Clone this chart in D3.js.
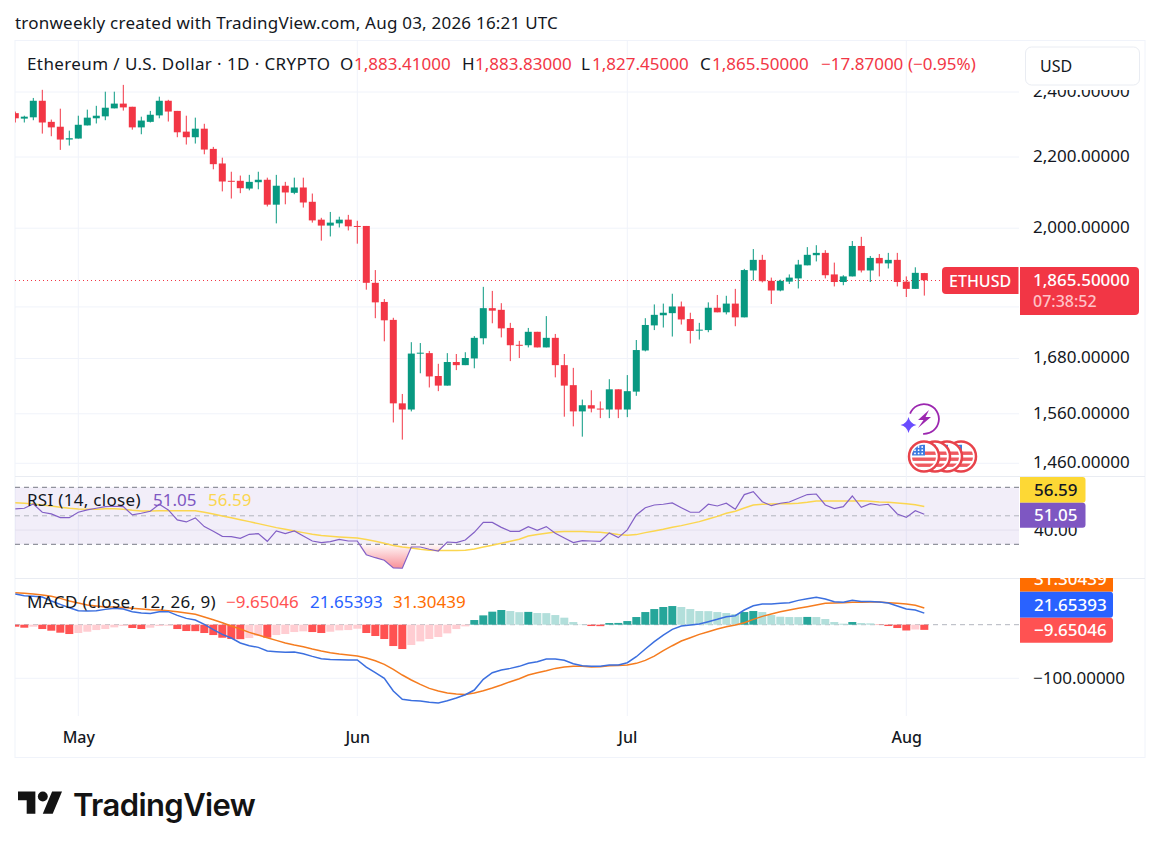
<!DOCTYPE html>
<html>
<head>
<meta charset="utf-8">
<script src="https://cdn.jsdelivr.net/npm/d3@7"></script>
<style>
  html, body { margin: 0; padding: 0; background: #fff; }
  svg { display: block; }
  text { font-family: "Noto Sans", sans-serif; fill: #131722; }
</style>
</head>
<body>
<div id="chart"></div>
<script>
// ETHUSD daily candles, one entry per day from Apr 24
const firstDay = "2026-04-24";
const opens = [2333,2316,2320,2372,2306,2291,2252,2255,2295,2317,2323,2348,2363,2353,2289,2306,2326,2372,2340,2276,2259,2285,2224,2181,2131,2131,2109,2127,2134,2064,2117,2097,2112,2072,2023,2007,2013,2023,2006,
  2006,1859,1812,1769,1582,1569,1692,1692,1641,1620,1672,1665,1680,1726,1797,1793,1750,1711,1710,1741,1705,1727,1665,1621,1565,1578,1571,1569,1612,1569,1607,1698,
  1756,1780,1785,1801,1771,1745,1745,1798,1787,1808,1775,1890,1917,1864,1840,1862,1870,1903,1929,1935,1880,1861,1875,1953,1890,1922,1908,1917,1862,1844,1883.41];
const highs = [2338,2325,2381,2407,2313,2347,2279,2325,2344,2356,2401,2401,2423,2353,2322,2340,2385,2375,2340,2325,2319,2300,2230,2198,2157,2146,2148,2157,2140,2148,2128,2140,2140,2095,2028,2044,2031,2036,2020,
  2006,1891,1819,1774,1602,1717,1715,1697,1668,1692,1690,1694,1731,1849,1839,1809,1762,1720,1750,1741,1778,1736,1690,1659,1590,1610,1586,1634,1612,1643,1722,1773,
  1806,1808,1832,1813,1786,1762,1811,1829,1827,1844,1894,1945,1930,1872,1867,1880,1917,1950,1955,1942,1910,1878,1966,1977,1927,1932,1935,1935,1875,1898,1883.83];
const lows = [2304,2304,2311,2270,2262,2221,2234,2255,2295,2301,2311,2348,2341,2282,2268,2304,2317,2307,2259,2237,2240,2208,2164,2101,2081,2096,2104,2107,2059,2013,2065,2093,2056,2015,1967,1978,2002,1994,1959,
  1842,1773,1719,1542,1507,1565,1647,1616,1608,1620,1654,1665,1658,1712,1761,1728,1674,1681,1705,1705,1705,1638,1554,1534,1513,1563,1551,1551,1551,1553,1598,1696,
  1745,1751,1730,1758,1714,1723,1740,1787,1782,1754,1775,1865,1860,1807,1838,1856,1845,1903,1913,1870,1850,1853,1875,1885,1861,1875,1895,1850,1824,1844,1827.45];
const closes = [2317,2322,2372,2304,2289,2252,2256,2297,2319,2325,2350,2363,2351,2289,2310,2328,2372,2338,2274,2259,2285,2222,2179,2129,2129,2110,2128,2134,2064,2117,2098,2112,2070,2021,2007,2015,2023,2005,2005,
  1859,1811,1768,1582,1569,1691,1693,1640,1620,1672,1665,1681,1727,1797,1791,1749,1710,1710,1741,1705,1727,1665,1620,1565,1578,1571,1570,1612,1569,1608,1699,1757,
  1781,1786,1801,1770,1743,1746,1798,1787,1808,1775,1891,1917,1863,1840,1864,1872,1905,1930,1935,1878,1861,1875,1953,1890,1922,1908,1917,1861,1844,1884,1865.5];

// RSI pane
const rsi = [54.8,55.3,58.3,52.5,51.3,48.7,48.7,52.5,54.1,55.3,56.4,56.7,56.4,50.6,51.8,53.2,58.1,54.1,47.1,45.7,48.5,42.4,39.1,35.6,35.4,34.2,37.0,37.5,32.1,39.4,37.5,39.4,35.8,32.3,31.2,31.9,33.5,32.3,32.3,
  22.7,20.6,18.8,13.4,13.2,28.1,28.1,26.5,25.3,31.6,31.2,33.0,38.4,45.4,45.4,41.9,39.1,39.1,42.4,39.8,42.4,37.7,34.4,31.2,32.6,32.3,32.1,38.0,34.7,40.1,50.6,55.7,
  57.6,58.1,59.0,55.7,52.5,52.5,58.1,56.9,58.8,54.6,64.9,67.0,59.9,57.1,58.8,59.7,62.3,64.9,65.3,57.6,55.0,56.4,63.9,56.0,58.5,57.4,58.1,51.3,48.9,53.6,51.05];
const rsiMa = [59.2,58.8,58.3,57.6,56.9,56.0,55.3,54.8,54.6,54.6,55.0,55.0,54.6,53.9,53.4,53.4,53.6,53.6,53.6,53.6,53.6,52.5,51.3,49.9,48.7,47.3,45.9,44.5,43.1,41.7,40.5,39.4,38.2,37.0,36.1,35.6,35.1,34.7,34.4,
  33.3,32.1,30.7,29.1,28.1,27.4,26.5,25.8,25.6,25.6,25.6,25.8,26.7,28.1,29.3,30.7,32.1,33.5,35.8,36.8,37.7,38.7,38.9,38.9,38.9,38.7,38.4,37.7,36.8,36.3,36.8,38.2,
  39.4,40.5,41.9,43.1,44.5,45.9,47.8,49.6,51.8,53.2,55.5,57.6,58.1,58.3,58.5,58.5,58.8,59.5,60.4,60.4,60.4,60.4,60.4,60.6,60.2,59.7,59.5,59.0,58.5,57.8,56.59];

// MACD pane
const macdLine = [57.2,54.1,52.9,51.6,44.2,37.9,31.7,26.1,25.5,26.1,28.6,30.5,29.2,24.3,21.8,21.1,24.3,24.3,17.4,11.8,8.7,0.6,-9.3,-18.0,-24.9,-34.2,-39.2,-42.3,-49.1,-50.4,-51.6,-51.0,-54.1,-59.1,-63.4,-64.7,-65.3,-65.9,-65.9,
  -79.0,-89.6,-100.1,-123.8,-139.3,-141.2,-142.4,-144.9,-146.1,-141.8,-136.8,-130.6,-121.9,-102.0,-89.6,-84.6,-81.5,-77.7,-72.1,-69.0,-64.1,-64.1,-66.5,-72.8,-76.5,-77.7,-77.7,-75.2,-75.2,-70.9,-59.7,-45.4,
  -31.7,-19.3,-8.7,-2.5,-0.6,1.2,5.6,10.0,14.9,16.8,27.4,35.4,38.6,38.6,39.8,41.0,45.4,48.5,51.0,47.9,42.9,41.7,45.4,43.5,43.5,42.3,40.4,34.8,29.2,27.4,21.65];
const signalLine = [59.7,58.5,57.2,55.3,52.9,49.1,44.2,40.4,36.7,34.8,33.0,33.0,32.3,30.5,29.2,28.0,27.4,26.1,24.3,21.8,19.3,14.3,9.3,3.7,-2.5,-8.1,-14.3,-19.3,-24.3,-29.2,-34.2,-37.9,-41.0,-45.4,-49.1,-52.2,-54.7,-56.6,-58.5,
  -62.2,-67.2,-74.0,-83.3,-93.9,-103.2,-111.3,-118.8,-123.8,-127.5,-129.4,-130.0,-127.5,-123.1,-118.2,-112.6,-106.3,-100.7,-93.9,-89.6,-85.8,-81.5,-79.0,-77.7,-77.7,-79.0,-78.4,-76.5,-75.9,-75.2,-72.1,-66.5,
  -58.5,-48.5,-39.2,-30.5,-24.3,-18.0,-13.1,-8.1,-3.7,-0.6,3.7,10.0,15.5,19.9,24.3,27.4,30.5,33.6,36.7,39.8,40.4,41.0,41.7,41.7,42.3,42.3,41.0,39.8,38.6,36.1,31.30];
const histogram = [-3.7,-5.6,-3.7,-8.1,-11.2,-14.9,-17.4,-15.5,-13.1,-10.0,-8.1,-5.0,-2.5,-6.2,-8.1,-5.6,-2.5,-1.9,-8.1,-11.8,-12.0,-15.5,-19.3,-24.3,-26.7,-27.0,-24.9,-21.1,-24.3,-19.3,-17.4,-13.7,-12.4,-13.7,-15.5,-13.1,-10.6,-10.0,-7.5,
  -15.5,-21.1,-26.7,-39.8,-45.4,-37.9,-31.1,-26.7,-23.0,-16.2,-8.1,-3.1,8.7,17.4,24.3,27.4,25.5,23.4,23.9,21.8,21.6,18.0,13.1,5.0,0.6,-2.5,-2.7,3.1,3.3,6.8,14.3,23.6,
  29.2,33.0,34.8,33.0,29.2,25.5,25.3,23.6,21.8,19.9,23.6,25.5,23.6,18.0,14.9,14.3,14.2,14.5,14.3,10.6,5.0,1.9,5.0,3.1,2.5,-0.6,-2.5,-6.2,-10.8,-9.0,-9.65];

// axis labels (1,800 has a grid line but its label is hidden by the price tag)
const priceGrid = [2400, 2200, 2000, 1800, 1680, 1560, 1460];
const priceTicks = [2400, 2200, 2000, 1680, 1560, 1460];
const rsiTicks = [40];
const macdTicks = [-100];
const monthTicks = ["2026-05-01", "2026-06-01", "2026-07-01", "2026-08-01"];
const lastPrice = 1865.5;

const parseDay = d3.utcParse("%Y-%m-%d");
const days = closes.map((_, i) => d3.utcDay.offset(parseDay(firstDay), i));

const width = 1160, height = 848;
const plotLeft = 15, plotRight = 1019, frameRight = 1145;
const RED = "#F23645", GREEN = "#089981", GRID = "#F0F3FA", RSI_MA = "#FBD650";

const x = d3.scaleUtc().domain([days[0], days[days.length - 1]]).range([15.3, 924.3]);
const yPrice = d3.scaleLog().domain([1460, 2400]).range([463.3, 92]);
const yRsi = d3.scaleLinear().domain([30, 70]).range([544.3, 487.3]);
const yMacd = d3.scaleLinear().domain([-100, 0]).range([678.3, 624.7]);

const svg = d3.select("#chart").append("svg").attr("width", width).attr("height", height);
const defs = svg.append("defs");

function addClip(id, x0, y0, w, h) {
    defs.append("clipPath").attr("id", id).append("rect")
        .attr("x", x0).attr("y", y0).attr("width", w).attr("height", h);
}
addClip("clip-price", plotLeft, 84, plotRight - plotLeft, 392);
addClip("clip-rsi", plotLeft, 476, plotRight - plotLeft, 102);
addClip("clip-macd", plotLeft, 578, plotRight - plotLeft, 138);
addClip("clip-tag", 1000, 578, 160, 100);

// frame and pane separators
svg.append("rect").attr("x", 15).attr("y", 40.5).attr("width", frameRight - 15).attr("height", 717)
    .attr("fill", "#fff").attr("stroke", GRID);
svg.selectAll(".sep").data([476, 578]).enter().append("line")
    .attr("x1", plotLeft).attr("x2", frameRight).attr("y1", d => d + 0.5).attr("y2", d => d + 0.5)
    .attr("stroke", "#E9ECF2");

// vertical grid
svg.append("g").selectAll("line").data(monthTicks).enter().append("line")
    .attr("x1", d => x(parseDay(d))).attr("x2", d => x(parseDay(d)))
    .attr("y1", 41).attr("y2", 716).attr("stroke", GRID);

// horizontal grid
svg.append("g").selectAll("line").data(priceGrid).enter().append("line")
    .attr("x1", plotLeft).attr("x2", plotRight).attr("y1", d => yPrice(d)).attr("y2", d => yPrice(d))
    .attr("stroke", GRID);
svg.append("g").selectAll("line").data(macdTicks).enter().append("line")
    .attr("x1", plotLeft).attr("x2", plotRight).attr("y1", d => yMacd(d)).attr("y2", d => yMacd(d))
    .attr("stroke", GRID);

// candles
const pricePane = svg.append("g").attr("clip-path", "url(#clip-price)");
const candleColor = i => closes[i] >= opens[i] ? GREEN : RED;

pricePane.append("line")
    .attr("x1", plotLeft).attr("x2", 942).attr("y1", yPrice(lastPrice)).attr("y2", yPrice(lastPrice))
    .attr("stroke", RED).attr("stroke-width", 1).attr("stroke-dasharray", "1,3")
    .attr("shape-rendering", "crispEdges");

pricePane.selectAll(".wick").data(days).enter().append("line")
    .attr("x1", d => x(d)).attr("x2", d => x(d))
    .attr("y1", (d, i) => yPrice(highs[i])).attr("y2", (d, i) => yPrice(lows[i]))
    .attr("stroke", (d, i) => candleColor(i));

pricePane.selectAll(".body").data(days).enter().append("rect")
    .attr("x", d => x(d) - 3.5).attr("width", 7)
    .attr("y", (d, i) => yPrice(Math.max(opens[i], closes[i])))
    .attr("height", (d, i) => Math.max(1, yPrice(Math.min(opens[i], closes[i])) - yPrice(Math.max(opens[i], closes[i]))))
    .attr("fill", (d, i) => candleColor(i));

// RSI pane
const rsiPane = svg.append("g").attr("clip-path", "url(#clip-rsi)");
rsiPane.append("rect").attr("x", plotLeft).attr("width", plotRight - plotLeft)
    .attr("y", yRsi(70)).attr("height", yRsi(30) - yRsi(70)).attr("fill", "rgba(126,87,194,0.1)");
rsiPane.selectAll(".grid").data(rsiTicks).enter().append("line")
    .attr("x1", plotLeft).attr("x2", plotRight).attr("y1", d => yRsi(d)).attr("y2", d => yRsi(d))
    .attr("stroke", "#E4E1EE");
rsiPane.selectAll(".band").data([70, 50, 30]).enter().append("line")
    .attr("x1", plotLeft).attr("x2", plotRight).attr("y1", d => yRsi(d)).attr("y2", d => yRsi(d))
    .attr("stroke", d => d === 50 ? "#B2B5BE" : "#787B86").attr("stroke-dasharray", "5,4");

const oversold = defs.append("linearGradient").attr("id", "oversold")
    .attr("gradientUnits", "userSpaceOnUse").attr("x1", 0).attr("x2", 0)
    .attr("y1", yRsi(30)).attr("y2", yRsi(d3.min(rsi)));
oversold.append("stop").attr("offset", 0).attr("stop-color", RED).attr("stop-opacity", 0.03);
oversold.append("stop").attr("offset", 1).attr("stop-color", RED).attr("stop-opacity", 0.55);
rsiPane.append("path")
    .attr("d", d3.area().x(d => x(d)).y0(yRsi(30)).y1((d, i) => yRsi(Math.min(30, rsi[i])))(days))
    .attr("fill", "url(#oversold)");

const drawLine = (pane, values, scale, color, lineWidth) => pane.append("path")
    .attr("d", d3.line().x(d => x(d)).y((d, i) => scale(values[i]))(days))
    .attr("fill", "none").attr("stroke", color).attr("stroke-width", lineWidth || 1.5);
drawLine(rsiPane, rsiMa, yRsi, RSI_MA);
drawLine(rsiPane, rsi, yRsi, "#8360C6", 1.2);

// MACD pane
const macdPane = svg.append("g").attr("clip-path", "url(#clip-macd)");
macdPane.append("line").attr("x1", plotLeft).attr("x2", plotRight)
    .attr("y1", yMacd(0)).attr("y2", yMacd(0))
    .attr("stroke", "#B2B5BE").attr("stroke-dasharray", "5,4");

function histColor(i) {
    const v = histogram[i], prev = i > 0 ? histogram[i - 1] : 0;
    if (v >= 0) return v > prev ? "#26A69A" : "#B2DFDB";
    return v < prev ? "#FF5252" : "#FFCDD2";
}
macdPane.selectAll(".hist").data(days).enter().append("rect")
    .attr("x", d => x(d) - 4).attr("width", 8)
    .attr("y", (d, i) => Math.min(yMacd(0), yMacd(histogram[i])))
    .attr("height", (d, i) => Math.abs(yMacd(histogram[i]) - yMacd(0)))
    .attr("fill", (d, i) => histColor(i));
drawLine(macdPane, signalLine, yMacd, "#F57C1F");
drawLine(macdPane, macdLine, yMacd, "#3B6FDF");

// axes
function styleAxis(g) {
    g.select(".domain").remove();
    g.selectAll("text").attr("font-size", 17).attr("fill", "#131722");
}
svg.append("g").attr("transform", `translate(${plotRight},-1)`)
    .call(d3.axisRight(yPrice).tickValues(priceTicks).tickFormat(d3.format(",.5f")).tickSize(0).tickPadding(14))
    .call(styleAxis);
svg.append("g").attr("transform", `translate(${plotRight},0)`)
    .call(d3.axisRight(yRsi).tickValues(rsiTicks).tickFormat(d3.format(".2f")).tickSize(0).tickPadding(15))
    .call(styleAxis);
svg.append("g").attr("transform", `translate(${plotRight},0)`)
    .call(d3.axisRight(yMacd).tickValues(macdTicks).tickFormat(d3.format(",.5f")).tickSize(0).tickPadding(14))
    .call(styleAxis);
svg.append("g").attr("transform", "translate(0,718)")
    .call(d3.axisBottom(x).tickValues(monthTicks.map(parseDay)).tickFormat(d3.utcFormat("%b")).tickSize(0).tickPadding(14))
    .call(styleAxis)
    .call(g => g.selectAll("text").attr("font-size", 16).attr("font-weight", 500));

// header text
function label(txt, tx, ty, size, color, weight, spacing) {
    return svg.append("text").attr("x", tx).attr("y", ty).attr("dominant-baseline", "central")
        .attr("font-size", size).attr("font-weight", weight || 400).attr("letter-spacing", spacing || 0)
        .style("fill", color || "#131722").text(txt);
}
label("tronweekly created with TradingView.com, Aug 03, 2026 16:21 UTC", 15, 22, 17, null, 400, 0.22);

label("Ethereum / U.S. Dollar · 1D · CRYPTO", 27, 63, 17, null, 400, 0.4);
label("O", 340, 63, 17);
label("1,883.41000", 354, 63, 17, RED);
label("H", 462, 63, 17);
label("1,883.83000", 475, 63, 17, RED);
label("L", 581, 63, 17);
label("1,827.45000", 592, 63, 17, RED);
label("C", 700, 63, 17);
label("1,865.50000", 712, 63, 17, RED);
label("−17.87000", 821, 63, 17, RED);
label("(−0.95%)", 908, 63, 17, RED);

// USD button; its white surround cuts off the top of the 2,400 label
svg.append("rect").attr("x", 1019).attr("y", 41).attr("width", 125).attr("height", 49).attr("fill", "#fff");
svg.append("rect").attr("x", 1025.5).attr("y", 47).attr("width", 114).attr("height", 38).attr("rx", 6)
    .attr("fill", "#fff").attr("stroke", "#E9ECF2");
label("USD", 1040, 65.5, 16);

// indicator legends
label("RSI (14, close)", 27, 499.5, 17, null, 400, 0.3);
label("51.05", 153, 499.5, 17, "#7E57C2");
label("56.59", 208, 499.5, 17, RSI_MA);
label("MACD (close, 12, 26, 9)", 27, 601.5, 17, null, 400, 0.4);
label("−9.65046", 226, 601.5, 17, "#FF5252");
label("21.65393", 310, 601.5, 17, "#2962FF");
label("31.30439", 393, 601.5, 17, "#FF6D00");

// price tags
svg.append("path").attr("d", "M1018.5,267H946a4,4 0 0 0 -4,4V290a4,4 0 0 0 4,4H1018.5Z").attr("fill", RED);
label("ETHUSD", 949, 280.5, 16, "#fff", 500);
svg.append("path").attr("d", "M1020,267H1135a4,4 0 0 1 4,4V311a4,4 0 0 1 -4,4H1020Z").attr("fill", RED);
label("1,865.50000", 1033, 279.5, 17, "#fff", 500);
label("07:38:52", 1033, 300.5, 16, "#FFC2C7", 500);

function tag(y0, h, w, color) {
    return svg.append("path")
        .attr("d", `M1020,${y0}H${1020 + w - 3}a3,3 0 0 1 3,3V${y0 + h - 3}a3,3 0 0 1 -3,3H1020Z`)
        .attr("fill", color);
}
tag(477, 25.7, 65.5, "#FDD835");
label("56.59", 1034, 489.5, 17, "#131722", 500);
tag(502.7, 25, 65.5, "#7E57C2");
label("51.05", 1034, 514.2, 17, "#fff", 500);

const clipped = svg.append("g").attr("clip-path", "url(#clip-tag)");
clipped.append("rect").attr("x", 1020).attr("y", 566).attr("width", 93).attr("height", 25.7).attr("fill", "#FF6D00");
clipped.append("text").attr("x", 1034).attr("y", 578).attr("dominant-baseline", "central")
    .attr("font-size", 17).attr("font-weight", 500).style("fill", "#fff").text("31.30439");
tag(591.7, 26, 93, "#2962FF");
label("21.65393", 1034, 604.2, 17, "#fff", 500);
tag(617.7, 25, 93, "#FF5252");
label("−9.65046", 1034, 629.7, 17, "#fff", 500);

// event icons, earnings style bolt
const bolt = svg.append("g").attr("transform", "translate(924,419)");
bolt.append("path")
    .attr("d", d3.arc().innerRadius(14).outerRadius(15.8).startAngle(-1.2).endAngle(3.9 - 0.7)())
    .attr("fill", "#9C27B0");
bolt.append("path").attr("d", "M5,-9L-6,1H-0.5L-6,9L7,-2H1.5Z").attr("fill", "#9C27B0");
svg.append("path").attr("transform", "translate(908.5,425)")
    .attr("d", "M0,-8Q1.5,-1.5 8,0Q1.5,1.5 0,8Q-1.5,1.5 -8,0Q-1.5,-1.5 0,-8Z").attr("fill", "#6A4CFF");

// flag icons
const flagX = [961, 947, 935, 924];
defs.append("clipPath").attr("id", "flag-clip").append("circle").attr("r", 12);
const flags = svg.selectAll(".flag").data(flagX).enter().append("g")
    .attr("transform", d => `translate(${d},456.5)`);
flags.append("circle").attr("r", 15).attr("fill", "#fff").attr("stroke", "#E8434B").attr("stroke-width", 2.5);
const flagInner = flags.append("g").attr("clip-path", "url(#flag-clip)");
flagInner.append("rect").attr("x", -12).attr("y", -12).attr("width", 24).attr("height", 24).attr("fill", "#fff");
flagInner.selectAll(".stripe").data([-5, 1, 7]).enter().append("rect")
    .attr("x", -12).attr("y", d => d).attr("width", 24).attr("height", 3.4).attr("fill", "#EF5A60");
flagInner.append("rect").attr("x", -12).attr("y", -12).attr("width", 13).attr("height", 11).attr("fill", "#3D7BE0");
flagInner.selectAll(".star").data(d3.range(9)).enter().append("circle")
    .attr("cx", d => -9 + (d % 3) * 3.6).attr("cy", d => -9.5 + Math.floor(d / 3) * 3.2)
    .attr("r", 0.9).attr("fill", "#fff");

// logo
svg.append("g").attr("transform", "translate(18,786.5) scale(1.24)").call(g => {
    g.append("path").attr("d", "M14 22H7V11H0V4h14v18zM28 22h-8l7.5-18h8L28 22z").attr("fill", "#131313");
    g.append("circle").attr("cx", 20).attr("cy", 8).attr("r", 4).attr("fill", "#131313");
});
svg.append("text").attr("x", 73).attr("y", 804).attr("dominant-baseline", "central")
    .attr("font-size", 31).attr("font-weight", 600).style("font-family", "Inter, sans-serif")
    .style("fill", "#131313").attr("letter-spacing", -0.6).text("TradingView");
</script>
</body>
</html>
